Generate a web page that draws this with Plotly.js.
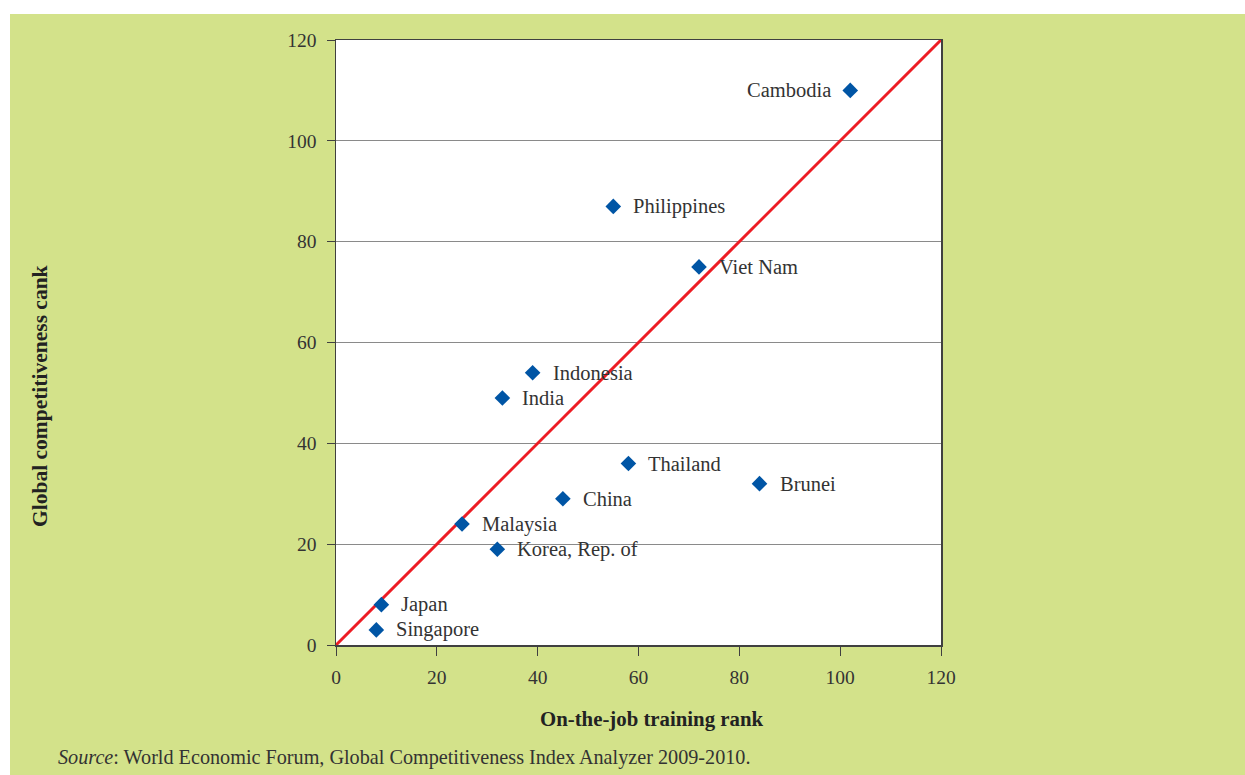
<!DOCTYPE html>
<html>
<head>
<meta charset="utf-8">
<script src="https://cdn.plot.ly/plotly-3.0.1.min.js"></script>
<style>
  html, body { margin: 0; padding: 0; background: #ffffff; }
  #chart { position: absolute; left: 10px; top: 14px; width: 1235px; height: 761px; }
</style>
</head>
<body>
<div id="chart"></div>
<script>
// Country ranks: on-the-job training (x) vs global competitiveness (y)
const countries = ["Cambodia", "Philippines", "Viet Nam", "Indonesia", "India", "Thailand",
                   "Brunei", "China", "Malaysia", "Korea, Rep. of", "Japan", "Singapore"];
const trainingRank = [102, 55, 72, 39, 33, 58, 84, 45, 25, 32, 9, 8];
const competitivenessRank = [110, 87, 75, 54, 49, 36, 32, 29, 24, 19, 8, 3];
// labels placed to the left of the marker
const labelLeft = ["Cambodia"];

const tickVals = [0, 20, 40, 60, 80, 100, 120];

const serif = "'Liberation Serif', 'DejaVu Serif', serif";
const textColor = "#333333";
const labelSize = 20.5;
const tickSize = 19.5;

const diagonal = {
  x: [0, 120], y: [0, 120],
  mode: "lines",
  line: { color: "#ed1c24", width: 3 },
  hoverinfo: "skip",
  showlegend: false
};

const points = {
  x: trainingRank, y: competitivenessRank,
  text: countries,
  mode: "markers",
  marker: { symbol: "diamond", size: 12, color: "#0055a5" },
  showlegend: false
};

const labels = countries.map((c, i) => {
  const left = labelLeft.includes(c);
  return {
    x: trainingRank[i], y: competitivenessRank[i],
    xref: "x", yref: "y",
    text: c, showarrow: false,
    xanchor: left ? "right" : "left",
    xshift: left ? -17 : 18,
    font: { family: serif, size: labelSize, color: textColor }
  };
});

const layout = {
  width: 1235, height: 761,
  margin: { l: 326, r: 304, t: 26, b: 130 },
  paper_bgcolor: "#d3e28a",
  plot_bgcolor: "#ffffff",
  font: { family: serif, size: tickSize, color: textColor },
  xaxis: {
    range: [0, 120], tickvals: tickVals, ticktext: tickVals.map(String),
    showgrid: false, zeroline: false,
    showline: true, linecolor: "#404040", linewidth: 1.5, mirror: true,
    ticks: "outside", ticklen: 9, tickcolor: "#404040", tickwidth: 1,
    ticklabelstandoff: 5,
    tickfont: { family: serif, size: tickSize, color: textColor }
  },
  yaxis: {
    range: [0, 120], tickvals: tickVals, ticktext: tickVals.map(String),
    showgrid: true, gridcolor: "#8a8a8a", gridwidth: 1,
    zeroline: false,
    showline: true, linecolor: "#404040", linewidth: 1.5, mirror: true,
    ticks: "outside", ticklen: 8, tickcolor: "#404040", tickwidth: 1,
    ticklabelstandoff: 6,
    tickfont: { family: serif, size: tickSize, color: textColor }
  },
  annotations: labels.concat([
    {
      text: "<b>On-the-job training rank</b>",
      xref: "paper", yref: "paper",
      x: (651 - 336) / 605, y: -(719 - 645) / 605,
      xanchor: "center", yanchor: "middle", showarrow: false,
      font: { family: serif, size: 20.8, color: "#222222" }
    },
    {
      text: "<b>Global competitiveness cank</b>",
      xref: "paper", yref: "paper",
      x: (40 - 336) / 605, y: (645 - 396) / 605,
      xanchor: "center", yanchor: "middle", textangle: -90, showarrow: false,
      font: { family: serif, size: 21.5, color: "#222222" }
    },
    {
      text: "<i>Source</i>: World Economic Forum, Global Competitiveness Index Analyzer 2009-2010.",
      xref: "paper", yref: "paper",
      x: (56 - 336) / 605, y: -(757 - 645) / 605,
      xanchor: "left", yanchor: "middle", showarrow: false,
      font: { family: serif, size: 20.2, color: "#333333" }
    }
  ])
};

Plotly.newPlot("chart", [diagonal, points], layout, { displayModeBar: false, staticPlot: true });
</script>
</body>
</html>
